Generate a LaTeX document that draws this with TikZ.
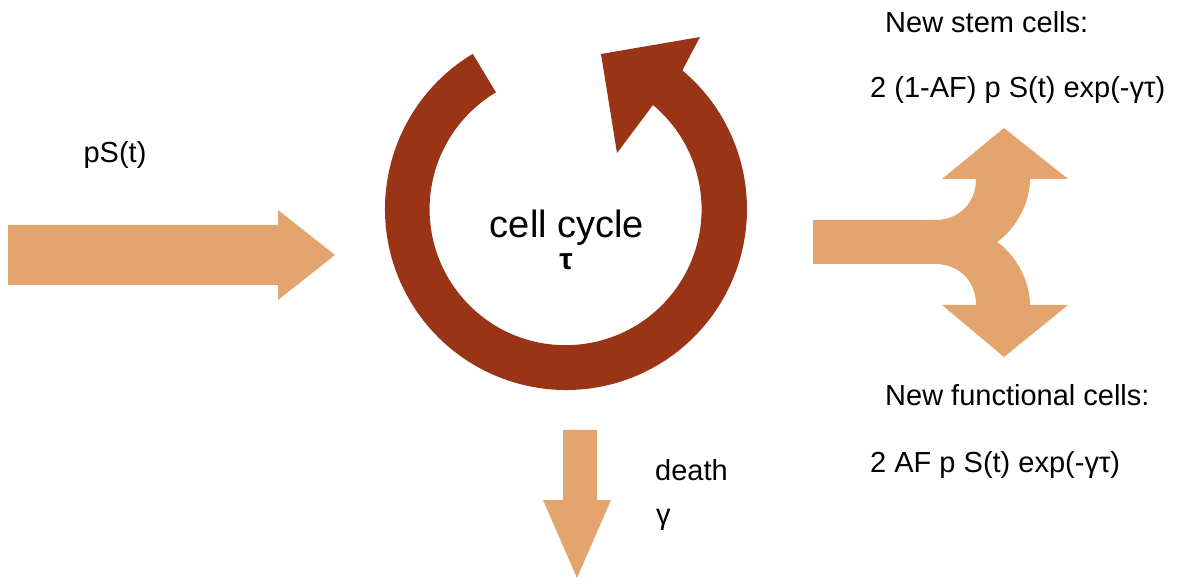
\documentclass[tikz,border=0pt]{standalone}
\usepackage{fontspec}
\setmainfont{Liberation Sans}
\begin{document}
\begin{tikzpicture}[x=1pt,y=1pt,
  light/.style={fill={rgb,255:red,228;green,164;blue,110},draw=none},
  dark/.style={fill={rgb,255:red,153;green,53;blue,22},draw=none},
  lbl/.style={font=\fontsize{29}{33}\selectfont,inner sep=0pt}]
\useasboundingbox (0,0) rectangle (1200,587);
% input arrow
\path[light] (8,302) -- (278,302) -- (278,287) -- (335,332) -- (278,377) -- (278,362) -- (8,362) -- cycle;
% death arrow
\path[light] (563,157) -- (563,87) -- (543,87) -- (577,9) -- (611,87) -- (597,87) -- (597,157) -- cycle;
% cycle arrow
\path[dark] (566,378) ++(121:136) -- ++(121:45) arc[start angle=121,end angle=410,radius=181]
  -- (700,550) -- (601,533) -- (617,434) -- (653,482) arc[start angle=410,end angle=121,radius=136] -- cycle;
% split arrow
\path[light] (813,367) -- (935,367) .. controls (960,367) and (976,385) .. (976,408)
  -- (942,408) -- (1004,459) -- (1068,408) -- (1030,408)
  .. controls (1030,380) and (1012,355) .. (997,345)
  .. controls (1012,335) and (1030,310) .. (1030,282)
  -- (1068,282) -- (1004,230) -- (942,282) -- (976,282)
  .. controls (976,305) and (960,323) .. (935,323) -- (813,323) -- cycle;
\node[lbl] (ps) at (115,432) {pS(t)};
\node[lbl,font=\fontsize{38}{42}\selectfont] (cc) at (567,359) {cell cycle};
\node[lbl,font=\fontsize{30}{34}\selectfont\bfseries] (tau) at (566,325) {τ};
\node[lbl,anchor=west] (ns) at (885,565) {New stem cells:};
\node[lbl,anchor=west] (nsf) at (870,497) {2 (1-AF) p S(t) exp(-γτ)};
\node[lbl,anchor=west] (nf) at (885,192) {New functional cells:};
\node[lbl,anchor=west] (nff) at (870,122) {2 AF p S(t) exp(-γτ)};
\node[lbl,anchor=west] (d) at (655,117) {death};
\node[lbl,anchor=west] (g) at (656,67) {γ};
\end{tikzpicture}
\end{document}
